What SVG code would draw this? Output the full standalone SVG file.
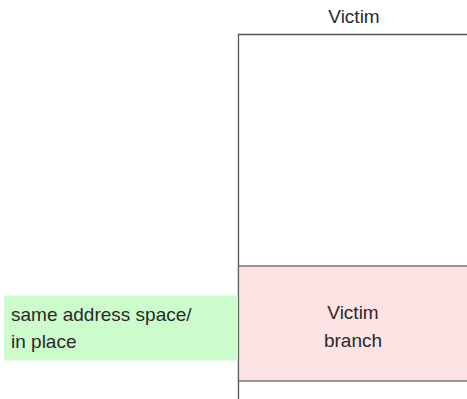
<svg xmlns="http://www.w3.org/2000/svg" width="467" height="399" viewBox="0 0 467 399">
<style>
text{font-family:"Liberation Sans",Arial,sans-serif;font-size:19px;fill:#2a2a2a}
.ln{stroke:#555;stroke-width:1.3;fill:none}
</style>
<rect width="467" height="399" fill="#fff"/>
<g id="victim-title"><text x="354" y="23" text-anchor="middle">Victim</text></g>
<g id="victim-column">
<path class="ln" d="M238.5,399 V34.5 H468"/>
</g>
<g id="victim-branch">
<rect x="238.5" y="266" width="230" height="115" fill="#fde3e4" stroke="#666" stroke-width="1.3"/>
<text x="353" y="319" text-anchor="middle">Victim</text>
<text x="353" y="347" text-anchor="middle">branch</text>
</g>
<g id="same-address">
<rect x="4" y="295.5" width="234" height="65" fill="#ccfccc"/>
<text x="11" y="321">same address space/</text>
<text x="11" y="348">in place</text>
</g>
<g id="connectors"/>
</svg>
